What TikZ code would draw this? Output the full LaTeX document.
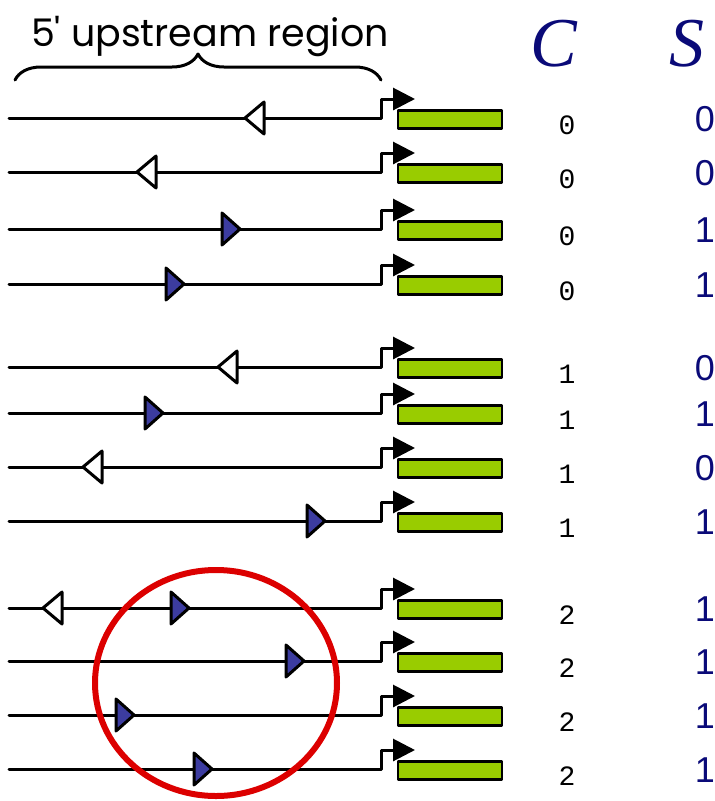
\documentclass[tikz,border=0pt]{standalone}
\usepackage{fontspec}
\setmainfont{Liberation Serif}
\newfontfamily\titlefont{Poppins}
\newfontfamily\codefont{Liberation Mono}
\newfontfamily\digitfont{Liberation Sans}
\usetikzlibrary{arrows.meta,decorations.pathreplacing}
\definecolor{genegreen}{RGB}{153,204,0}
\definecolor{navy}{RGB}{10,10,120}
\definecolor{circred}{RGB}{220,0,0}
\definecolor{siteblue}{RGB}{60,60,160}

\tikzset{
  dna/.style={line width=3pt},
  genebox/.style={draw, line width=2.5pt, fill=genegreen, minimum width=104pt, minimum height=18pt, inner sep=0pt},
  cnum/.style={font=\codefont\fontsize{28}{28}\selectfont},
  snum/.style={font=\digitfont\fontsize{36}{36}\selectfont, text=navy},
  head/.style={font=\fontsize{70}{70}\selectfont\itshape, text=navy}
}
\newcommand\opensite[2]{\draw[dna, fill=white] (#1,#2) -- (#1+19,#2-16) -- (#1+19,#2+16) -- cycle;}
\newcommand\bluesite[2]{\draw[dna, fill=siteblue] (#1,#2-16) -- (#1+18,#2) -- (#1,#2+16) -- cycle;}

\begin{document}
\begin{tikzpicture}[x=1pt,y=-1pt, line cap=round, line join=round]
  \useasboundingbox (0,0) rectangle (715,801);

  % title and brace
  \node[font=\titlefont\fontsize{38}{38}\selectfont, anchor=base] (title) at (210,46) {5' upstream region};
  \draw[dna, decorate, decoration={brace, amplitude=26pt}] (15,80) -- (381,80);

  % column heads
  \node[head] (chead) at (554,44) {C};
  \node[head] (shead) at (687,44) {S};

  % one row per sequence
  \foreach \y/\c/\s [count=\i] in {118/0/0, 172/0/0, 229/0/1, 284/0/1,
                                   367/1/0, 413/1/1, 467/1/0, 521/1/1,
                                   608/2/1, 661/2/1, 715/2/1, 769/2/1} {
    \coordinate (start\i) at (9,\y);
    \coordinate (tss\i) at (381,\y);
    \draw[dna, -{Triangle[length=22pt,width=22pt]}] (start\i) -- (tss\i) -- ++(0,-19) -- ++(34,0);
    \node[genebox] (gene\i) at (450,\y+1.5) {};
    \node[cnum] (c\i) at (567,\y+7) {\c};
    \node[snum] (s\i) at (705,\y+1) {\s};
  }

  % binding sites
  \opensite{245}{118}
  \opensite{137}{172}
  \bluesite{222}{229}
  \bluesite{166}{284}
  \opensite{218}{367}
  \bluesite{145}{413}
  \opensite{83}{467}
  \bluesite{307}{521}
  \opensite{43}{608}
  \bluesite{171}{608}
  \bluesite{286}{661}
  \bluesite{116}{715}
  \bluesite{194}{769}

  \draw[circred, line width=6pt] (216,683) ellipse [x radius=121, y radius=113];
\end{tikzpicture}
\end{document}
